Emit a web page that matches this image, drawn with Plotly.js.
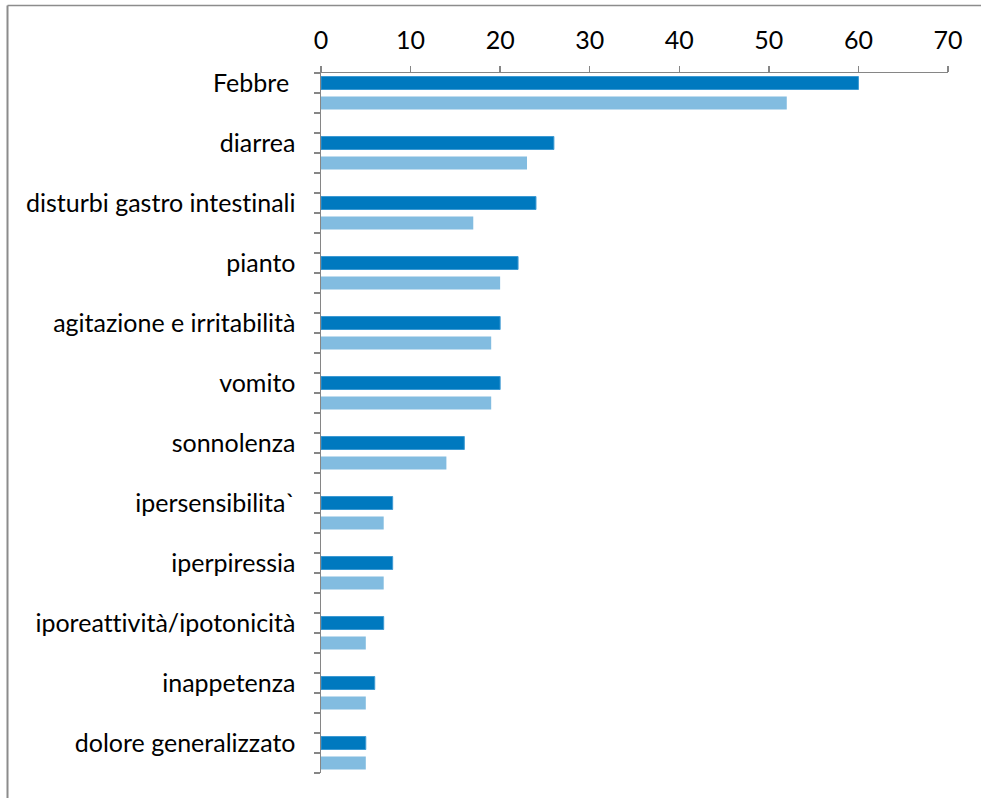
<!DOCTYPE html>
<html>
<head>
<meta charset="utf-8">
<script src="https://cdn.plot.ly/plotly-3.0.1.min.js"></script>
<style>html,body{margin:0;padding:0;background:#fff;}#chart{width:981px;height:798px;}
#chart text{font-variant-ligatures:none;font-feature-settings:"liga" 0;}</style>
</head>
<body>
<div id="chart"></div>
<script>
const categories = ["Febbre\u00a0", "diarrea", "disturbi gastro intestinali", "pianto", "agitazione e irritabilità", "vomito", "sonnolenza", "ipersensibilita`", "iperpiressia", "iporeattività/ipotonicità", "inappetenza", "dolore generalizzato"];
const seriesA = [60, 26, 24, 22, 20, 20, 16, 8, 8, 7, 6, 5];
const seriesB = [52, 23, 17, 20, 19, 19, 14, 7, 7, 5, 5, 5];
const xTicks = [0, 10, 20, 30, 40, 50, 60, 70];

const posA = categories.map((c, i) => 3 * i);
const posB = categories.map((c, i) => 3 * i + 1);

const traces = [
  {type: 'bar', orientation: 'h', x: seriesA, y: posA, width: 0.65,
   marker: {color: '#0079BF', line: {color: '#3E9AD3', width: 1}}, hoverinfo: 'x'},
  {type: 'bar', orientation: 'h', x: seriesB, y: posB, width: 0.65,
   marker: {color: '#82BCE0', line: {width: 0}}, hoverinfo: 'x'}
];

const font = {family: 'Lato, "Open Sans", sans-serif', size: 25, color: '#000'};

const layout = {
  width: 981, height: 798,
  margin: {l: 321, r: 33, t: 73, b: 25},
  paper_bgcolor: '#fff', plot_bgcolor: '#fff',
  showlegend: false,
  barmode: 'overlay',
  font: font,
  xaxis: {
    side: 'top', range: [0, 70], tickvals: xTicks, ticktext: xTicks.map(String),
    showgrid: false, zeroline: false, showline: true, linecolor: '#868686', linewidth: 1.5,
    ticks: 'outside', ticklen: 6, tickcolor: '#868686', tickwidth: 1.5,
    tickfont: font, ticklabelstandoff: 7, fixedrange: true
  },
  yaxis: {
    range: [34.5, -0.5], tickmode: 'array', tickvals: posA, ticktext: categories,
    showgrid: false, zeroline: false, showline: true, linecolor: '#868686', linewidth: 1.5,
    ticks: '', tickfont: font, ticklabelstandoff: 19,
    minor: {tickmode: 'linear', tick0: 0.5, dtick: 1, ticks: 'outside', ticklen: 6, tickcolor: '#868686', tickwidth: 1.5, showgrid: false},
    fixedrange: true
  },
  shapes: [
    {type: 'line', xref: 'paper', yref: 'paper', x0: -0.5, x1: -0.5, y0: -0.04, y1: 1.0964, line: {color: '#8C8C8C', width: 2}},
    {type: 'line', xref: 'paper', yref: 'paper', x0: -0.5, x1: 1.06, y0: 1.0964, y1: 1.0964, line: {color: '#8C8C8C', width: 1.5}}
  ]
};

Plotly.newPlot('chart', traces, layout, {displayModeBar: false, staticPlot: true});
</script>
</body>
</html>
